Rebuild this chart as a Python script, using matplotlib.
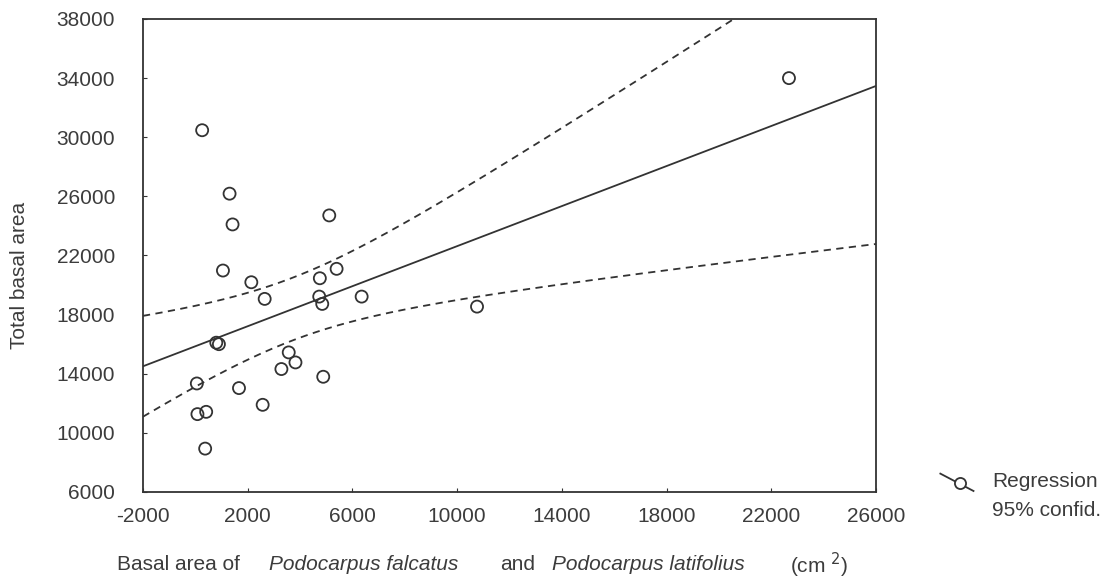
import numpy as np
import matplotlib.pyplot as plt

# basal area of Podocarpus (cm2) vs total basal area
podo_area = [260, 1307, 1421, 5115, 1054, 2138, 2648, 4755, 5395, 4732,
             4847, 6352, 800, 900, 3567, 3824, 3287, 4885, 57, 1667,
             2571, 80, 414, 375, 10759, 22674]
total_area = [30474, 26182, 24101, 24711, 20982, 20189, 19063, 20460, 21097, 19219,
              18724, 19219, 16100, 16000, 15443, 14765, 14317, 13795, 13341, 13029,
              11897, 11267, 11422, 8934, 18541, 34000]

x_ticks = [-2000, 2000, 6000, 10000, 14000, 18000, 22000, 26000]
y_ticks = [6000, 10000, 14000, 18000, 22000, 26000, 30000, 34000, 38000]

plt.rcParams['font.family'] = ['Liberation Sans', 'DejaVu Sans']
plt.rcParams['axes.unicode_minus'] = False

x = np.array(podo_area, dtype=float)
y = np.array(total_area, dtype=float)
n = len(x)
slope, intercept = np.polyfit(x, y, 1)
resid = y - (intercept + slope * x)
s = np.sqrt(np.sum(resid ** 2) / (n - 2))
sxx = np.sum((x - x.mean()) ** 2)
t_val = 2.064  # t(0.975, 24)

xx = np.linspace(-2000, 26000, 200)
yy = intercept + slope * xx
half = t_val * s * np.sqrt(1 / n + (xx - x.mean()) ** 2 / sxx)

fig = plt.figure(figsize=(11.05, 5.79), dpi=100)
ax = fig.add_axes([0.1294, 0.1503, 0.6634, 0.8169])

ink = '#333333'
txt = '#3c3c3c'
fs = 15
ax.plot(xx, yy, color=ink, lw=1.3)
ax.plot(xx, yy + half, color=ink, lw=1.3, ls=(0, (4, 3)))
ax.plot(xx, yy - half, color=ink, lw=1.3, ls=(0, (4, 3)))
ax.scatter(x, y, s=75, facecolors='none', edgecolors=ink, linewidths=1.3, zorder=3)

ax.set_xlim(-2000, 26000)
ax.set_ylim(6000, 38000)
ax.set_xticks(x_ticks)
ax.set_yticks(y_ticks)
ax.tick_params(direction='in', length=3, labelsize=fs, labelcolor=txt, color=ink)
ax.tick_params(axis='x', pad=11)
ax.tick_params(axis='y', pad=20)
for sp in ax.spines.values():
    sp.set_color(ink)
    sp.set_linewidth(1.3)

fig.text(0.018, 0.525, 'Total basal area', fontsize=fs, color=txt,
         rotation=90, ha='center', va='center')

# x label with italic species names
yl = 0.0242
fig.text(0.1059, yl, 'Basal area of', fontsize=fs, color=txt, va='center')
fig.text(0.2434, yl, 'Podocarpus falcatus', fontsize=fs, style='italic', color=txt, va='center')
fig.text(0.4525, yl, 'and', fontsize=fs, color=txt, va='center')
fig.text(0.4995, yl, 'Podocarpus latifolius', fontsize=fs, style='italic', color=txt, va='center')
fig.text(0.7149, yl, '(cm $^2$)', fontsize=fs, color=txt, va='center')

# legend drawn in figure coords
fig.lines.append(plt.Line2D([0.851, 0.881], [0.182, 0.152], transform=fig.transFigure,
                            color=ink, lw=1.3))
fig.lines.append(plt.Line2D([0.869], [0.165], transform=fig.transFigure, marker='o',
                            ms=8, mfc='white', mec=ink, mew=1.3, ls='none'))
fig.text(0.898, 0.168, 'Regression', fontsize=fs, color=txt, va='center')
fig.text(0.898, 0.119, '95% confid.', fontsize=fs, color=txt, va='center')

fig.savefig('out.png', dpi=100)
